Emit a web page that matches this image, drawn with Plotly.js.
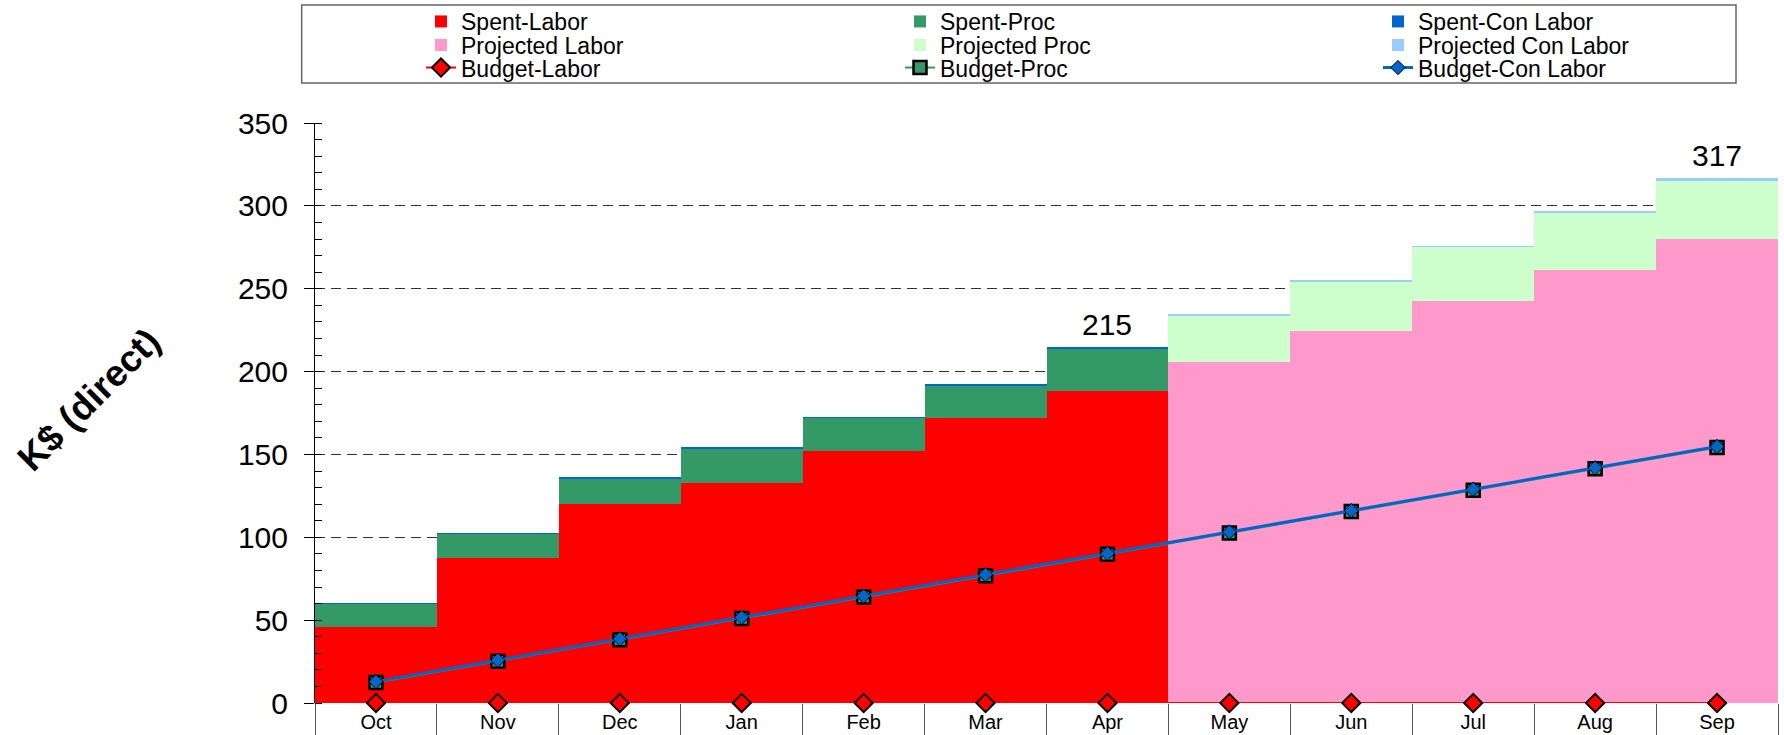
<!DOCTYPE html>
<html><head><meta charset="utf-8">
<script src="https://cdn.plot.ly/plotly-3.0.1.min.js"></script>
<style>html,body{margin:0;padding:0;background:#fff}#chart{width:1784px;height:735px}</style>
</head><body><div id="chart"></div>
<script>
// ---- data ----
const months = ['Oct','Nov','Dec','Jan','Feb','Mar','Apr','May','Jun','Jul','Aug','Sep'];
const spentMonths = ['Oct','Nov','Dec','Jan','Feb','Mar','Apr'];
const projMonths = ['May','Jun','Jul','Aug','Sep'];
const spentLabor = [45.7, 87.5, 119.8, 133.0, 152.3, 172.2, 188.0];
const spentProc = [13.8, 14.3, 15.6, 20.2, 19.5, 19.3, 25.8];
const spentConLabor = [1.0, 1.0, 1.0, 1.0, 1.0, 1.0, 1.0];
const projLabor = [206.0, 224.2, 242.8, 261.5, 279.8];
const projProc = [27.7, 30.0, 32.2, 33.9, 35.5];
const projConLabor = [1.1, 1.0, 1.0, 1.2, 1.3];
const budgetLabor = [0, 0, 0, 0, 0, 0, 0, 0, 0, 0, 0, 0];
const budgetProc = [12.4, 25.2, 38.1, 51.0, 63.9, 76.8, 89.7, 102.6, 115.5, 128.4, 141.3, 154.2];
const budgetConLabor = [12.9, 25.8, 38.7, 51.6, 64.5, 77.4, 90.3, 103.2, 116.1, 129.0, 141.9, 154.8];
const yTitle = 'K$ (direct)';

const FONT = 'Liberation Sans, Arial, sans-serif';

function bar(name, x, y, color, lg) {
  return {type: 'bar', name: name, x: x, y: y, legend: lg,
    marker: {color: color, line: {width: 0}}, hoverinfo: 'name+y'};
}
function budget(name, y, lineColor, lineWidth, symbol, size, fill, olw, lg) {
  return {type: 'scatter', mode: 'lines+markers', name: name, x: months, y: y, cliponaxis: false, legend: lg,
    line: {color: lineColor, width: lineWidth},
    marker: {symbol: symbol, size: size, color: fill, line: {color: '#000', width: olw}}};
}

const traces = [
  bar('Spent-Labor', spentMonths, spentLabor, '#ff0000', 'legend'),
  bar('Spent-Proc', spentMonths, spentProc, '#339966', 'legend2'),
  bar('Spent-Con Labor', spentMonths, spentConLabor, '#0066cc', 'legend3'),
  bar('Projected Labor', projMonths, projLabor, '#ff99cc', 'legend4'),
  bar('Projected Proc', projMonths, projProc, '#ccffcc', 'legend5'),
  bar('Projected Con Labor', projMonths, projConLabor, '#99ccff', 'legend6'),
  budget('Budget-Labor', budgetLabor, '#ff0000', 2, 'diamond', 14, '#ff0000', 2, 'legend7'),
  budget('Budget-Proc', budgetProc, '#339966', 2, 'square', 13, '#339966', 2.5, 'legend8'),
  budget('Budget-Con Labor', budgetConLabor, '#0066cc', 3, 'diamond', 11, '#0066cc', 1, 'legend9')
];

function sumAt(arrs, i) { return arrs.reduce((s, a) => s + a[i], 0); }
const lastSpent = spentMonths.length - 1;
const lastProj = projMonths.length - 1;
const spentTotal = sumAt([spentLabor, spentProc, spentConLabor], lastSpent);
const projTotal = sumAt([projLabor, projProc, projConLabor], lastProj);

function legendAt(x, y) {
  return {orientation: 'v', x: x, xanchor: 'left', y: y, yanchor: 'top', traceorder: 'normal',
    font: {family: FONT, size: 23, color: '#000'}, bgcolor: 'rgba(0,0,0,0)', borderwidth: 0};
}
const colX = [0.07245, 0.39986, 0.72659];
const rowY = [1.2121, 1.1714, 1.1326];

const layout = {
  width: 1784, height: 735,
  margin: {l: 315, r: 6, t: 123, b: 32, pad: 0, autoexpand: false},
  paper_bgcolor: '#fff', plot_bgcolor: '#fff',
  font: {family: FONT, color: '#000'},
  barmode: 'stack', bargap: 0,
  showlegend: true,
  legend: legendAt(colX[0], rowY[0]),
  legend2: legendAt(colX[1], rowY[0]),
  legend3: legendAt(colX[2], rowY[0]),
  legend4: legendAt(colX[0], rowY[1]),
  legend5: legendAt(colX[1], rowY[1]),
  legend6: legendAt(colX[2], rowY[1]),
  legend7: legendAt(colX[0], rowY[2]),
  legend8: legendAt(colX[1], rowY[2]),
  legend9: legendAt(colX[2], rowY[2]),
  xaxis: {type: 'category', categoryorder: 'array', categoryarray: months, range: [-0.5, 11.5],
    tickson: 'boundaries', ticks: 'outside', ticklen: 32, tickcolor: '#555', tickwidth: 1,
    showgrid: false, zeroline: false, showline: false, automargin: false,
    tickfont: {family: FONT, size: 20, color: '#000'}, ticklabelstandoff: 5},
  yaxis: {range: [0, 350], dtick: 50, tick0: 0, ticks: 'outside', ticklen: 10, tickcolor: '#000', tickwidth: 1,
    showline: true, linecolor: '#000', linewidth: 1, zeroline: false, automargin: false,
    showgrid: true, gridcolor: '#333', gridwidth: 1, griddash: '10px,6px',
    minor: {dtick: 10, ticks: 'inside', ticklen: 7, tickcolor: '#000', tickwidth: 1, showgrid: false},
    tickfont: {family: FONT, size: 30, color: '#000'}, ticklabelstandoff: 10},
  annotations: [
    {xref: 'x', yref: 'y', x: spentMonths[lastSpent], y: spentTotal, text: String(Math.round(spentTotal)),
      showarrow: false, yanchor: 'bottom', yshift: 4, font: {family: FONT, size: 30, color: '#000'}},
    {xref: 'x', yref: 'y', x: projMonths[lastProj], y: projTotal, text: String(Math.round(projTotal)),
      showarrow: false, yanchor: 'bottom', yshift: 4, font: {family: FONT, size: 30, color: '#000'}},
    {xref: 'paper', yref: 'paper', x: -0.1545, y: 0.5241, text: '<b>' + yTitle + '</b>', textangle: -45,
      showarrow: false, xanchor: 'center', yanchor: 'middle', font: {family: FONT, size: 37, color: '#000'}}
  ],
  shapes: [
    {type: 'rect', xref: 'paper', yref: 'paper', x0: -0.0091, x1: 0.9713, y0: 1.0690, y1: 1.2034,
      line: {color: '#666', width: 1.5}, fillcolor: 'rgba(0,0,0,0)', layer: 'above'}
  ]
};

Plotly.newPlot('chart', traces, layout, {displayModeBar: false, staticPlot: true});
</script>
</body></html>
